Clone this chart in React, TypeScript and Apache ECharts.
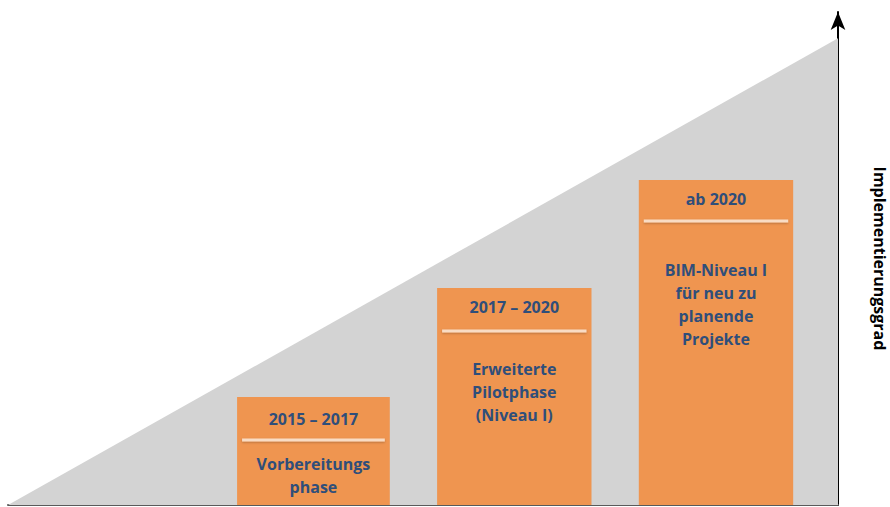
import React, { useEffect, useRef } from "react";
import * as echarts from "echarts";

// Data
const periods = ["2015 – 2017", "2017 – 2020", "ab 2020"];
const phases = [
  "Vorbereitungs\nphase",
  "Erweiterte\nPilotphase\n(Niveau I)",
  "BIM-Niveau I\nfür neu zu\nplanende\nProjekte",
];
const barStart = [27.6, 51.7, 76.0];
const barEnd = [46.0, 70.3, 94.6];
const barLevel = [21.9, 44.0, 65.9];
const rampPoints = [
  [0, 0],
  [100, 94.7],
];
const axisName = "Implementierungsgrad";

// Layout constants (not data)
const headerOffset = [22, 19, 19];
const sepOffset = [43, 43, 41];
const bodyOffset = [55, 69, 78];

const FONT = "'Open Sans', Lato, sans-serif";
const TEXT_COLOR = "#2f4e7a";

export default function App() {
  const ref = useRef<HTMLDivElement>(null);
  useEffect(() => {
    if (!ref.current) return;
    const chart = echarts.init(ref.current, undefined, { renderer: "svg" });
    const barData = periods.map((_, i) => [barStart[i], barEnd[i], barLevel[i], i]);
    chart.setOption({
      animation: false,
      backgroundColor: "#ffffff",
      grid: { left: 8, right: 52, top: 12, bottom: 2, outerBoundsMode: "none" },
      xAxis: {
        type: "value",
        min: 0,
        max: 100,
        axisLine: { show: true, lineStyle: { color: "#5a5a5a", width: 2 } },
        axisTick: { show: false },
        axisLabel: { show: false },
        splitLine: { show: false },
      },
      yAxis: {
        type: "value",
        min: 0,
        max: 100,
        position: "right",
        axisLine: {
          show: true,
          onZero: false,
          symbol: ["none", "arrow"],
          symbolSize: [11, 18],
          lineStyle: { color: "#000000", width: 2 },
        },
        axisTick: { show: false },
        axisLabel: { show: false },
        splitLine: { show: false },
        name: axisName,
        nameLocation: "middle",
        nameRotate: -90,
        nameGap: 34,
        nameTextStyle: {
          color: "#000000",
          fontSize: 16,
          fontWeight: "bold",
          fontFamily: FONT,
        },
      },
      series: [
        {
          type: "line",
          data: rampPoints,
          symbol: "none",
          lineStyle: { width: 0 },
          areaStyle: { color: "#d3d3d3", opacity: 1 },
          silent: true,
          z: 1,
        },
        {
          type: "custom",
          z: 5,
          data: barData,
          renderItem: (params: any, api: any) => {
            const i = api.value(3);
            const tl = api.coord([api.value(0), api.value(2)]);
            const br = api.coord([api.value(1), 0]);
            const x = tl[0];
            const y = tl[1];
            const w = br[0] - tl[0];
            const h = br[1] - tl[1];
            const cx = x + w / 2;
            return {
              type: "group",
              children: [
                {
                  type: "rect",
                  shape: { x, y, width: w, height: h },
                  style: { fill: "#ef9550" },
                },
                {
                  type: "rect",
                  shape: { x: x + 5, y: y + sepOffset[i] - 1.5, width: w - 10, height: 3 },
                  style: {
                    fill: "#f9dcc4",
                    shadowBlur: 2,
                    shadowColor: "rgba(0,0,0,0.25)",
                    shadowOffsetY: 1,
                  },
                },
                {
                  type: "text",
                  style: {
                    text: periods[i],
                    x: cx,
                    y: y + headerOffset[i],
                    align: "center",
                    verticalAlign: "middle",
                    fill: TEXT_COLOR,
                    fontSize: 16,
                    fontWeight: "bold",
                    fontFamily: FONT,
                  },
                },
                {
                  type: "text",
                  style: {
                    text: phases[i],
                    x: cx,
                    y: y + bodyOffset[i],
                    align: "center",
                    verticalAlign: "top",
                    lineHeight: 23,
                    fill: TEXT_COLOR,
                    fontSize: 16,
                    fontWeight: "bold",
                    fontFamily: FONT,
                  },
                },
              ],
            };
          },
        },
      ],
    });
    return () => chart.dispose();
  }, []);
  return (
    <div
      ref={ref}
      style={{ position: "fixed", left: 0, top: 0, width: 890, height: 507 }}
    />
  );
}
